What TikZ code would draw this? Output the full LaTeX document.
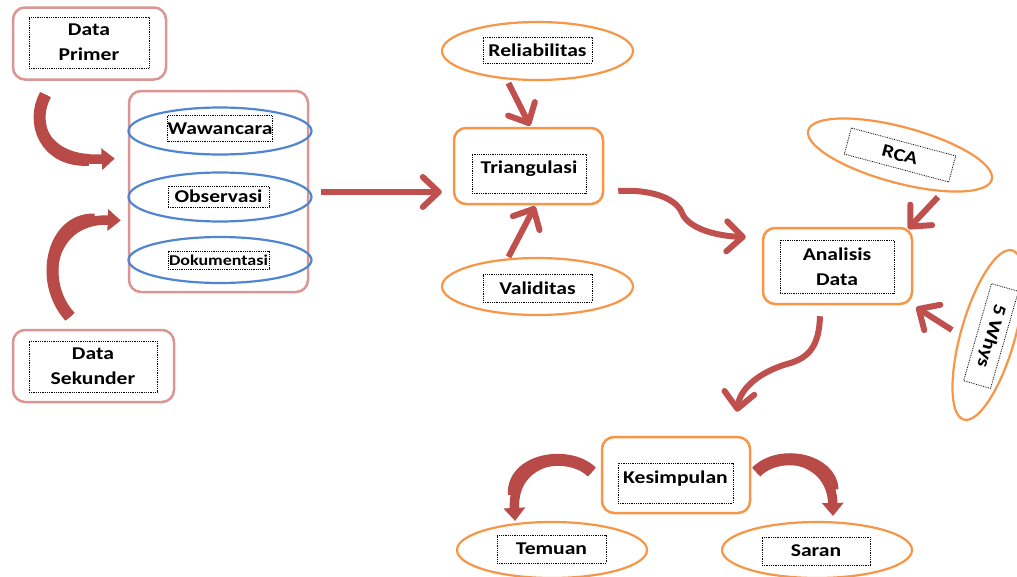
\documentclass[tikz,border=0pt]{standalone}
\usepackage{fontspec}
\setmainfont{Carlito}[FakeStretch=1.2]
\usetikzlibrary{shapes.geometric,arrows.meta,calc}
\definecolor{pinkc}{HTML}{D99694}
\definecolor{orangec}{HTML}{F79646}
\definecolor{bluec}{HTML}{4F86CF}
\definecolor{arrc}{HTML}{C0504D}
\definecolor{carrc}{HTML}{B84A47}
\tikzset{
  pinkbox/.style={draw=pinkc, line width=2.5pt, rounded corners=12pt, fill=white, inner sep=0},
  orgbox/.style={draw=orangec, line width=2.5pt, rounded corners=12pt, fill=white, inner sep=0},
  oell/.style={ellipse, draw=orangec, line width=2.2pt, fill=white, inner sep=0},
  bell/.style={ellipse, draw=bluec, line width=2.2pt, inner sep=0},
  lbl/.style={draw=black, densely dotted, line width=0.8pt, fill=white, inner sep=0, align=center,
    font=\fontsize{18}{25}\selectfont\bfseries},
  topish/.style={text height=12pt, text depth=12pt},
  conn/.style={draw=arrc, line width=6pt, -{Straight Barb[length=16pt,width=30pt,round]}},
  carr/.style={draw=carrc, line width=7pt, -{Triangle[length=13pt,width=21pt]}},
  carrmid/.style={draw=carrc, line width=9.5pt, shorten >=12pt},
  carrfat/.style={draw=carrc, line width=12pt, shorten >=26pt},
}
\newcommand\curvedarrow[1]{\draw[carr] #1; \draw[carrmid] #1; \draw[carrfat] #1;}
\begin{document}
\begin{tikzpicture}[x=1pt,y=-1pt]
\useasboundingbox (0,0) rectangle (1017,576);

% left column
\node[pinkbox, minimum width=153, minimum height=72] (dp) at (89.5,43.5) {};
\node[lbl, minimum width=120, minimum height=51] (dpl) at (89,42.5) {Data\\Primer};
\node[pinkbox, minimum width=161, minimum height=72] (ds) at (93.5,366) {};
\node[lbl, minimum width=128, minimum height=51] (dsl) at (93,366.5) {Data\\Sekunder};

% group
\node[pinkbox, minimum width=179, minimum height=201] (grp) at (218.5,191.5) {};
\node[bell, minimum width=183, minimum height=47] (wel) at (220,131) {};
\node[bell, minimum width=183, minimum height=49] (oel) at (220,197) {};
\node[bell, minimum width=183, minimum height=46] (del) at (220,260) {};
\node[lbl, minimum width=102, minimum height=26] (wl) at (220,128.5) {Wawancara};
\node[lbl, minimum width=101, minimum height=21] (ol) at (218.5,196.5) {Observasi};
\node[lbl, minimum width=101, minimum height=18, font=\fontsize{15}{18}\selectfont\bfseries] (dl) at (218.5,260) {Dokumentasi};

% triangulasi
\node[orgbox, minimum width=149, minimum height=76] (tri) at (528.5,166) {};
\node[lbl, topish, minimum width=114, minimum height=39] (tril) at (529,173.5) {Triangulasi};
\node[oell, minimum width=191, minimum height=58] (rel) at (537.5,51) {};
\node[lbl, minimum width=109, minimum height=26] (rell) at (537.5,50) {Reliabilitas};
\node[oell, minimum width=191, minimum height=57] (val) at (537.5,286.5) {};
\node[lbl, minimum width=109, minimum height=28] (vall) at (537.5,288) {Validitas};

% analisis
\node[orgbox, minimum width=149, minimum height=76] (ana) at (837.5,266) {};
\node[lbl, minimum width=114, minimum height=53] (anal) at (837,266.5) {Analisis\\Data};
\node[oell, rotate=-15, minimum width=190, minimum height=56] (rca) at (900,155) {};
\node[lbl, rotate=-15, minimum width=108, minimum height=27] (rcal) at (900,155) {RCA};
\node[oell, rotate=-106, minimum width=176, minimum height=54] (wh) at (988,335) {};
\node[lbl, rotate=-106, minimum width=101, minimum height=28] (whl) at (991,336) {5 Whys};

% kesimpulan
\node[orgbox, minimum width=148, minimum height=76] (kes) at (676,475) {};
\node[lbl, topish, minimum width=115, minimum height=40] (kesl) at (675.5,483) {Kesimpulan};
\node[oell, minimum width=190, minimum height=56] (tem) at (552,550) {};
\node[lbl, minimum width=109, minimum height=28] (teml) at (551.5,549) {Temuan};
\node[oell, minimum width=190, minimum height=56] (sar) at (817,550) {};
\node[lbl, minimum width=108, minimum height=28] (sarl) at (816,551) {Saran};

% connectors
\curvedarrow{($(dp.south)+(-44,14)$) .. controls (30,122) and (45,162) .. ($(grp.west)+(-13,-33)$)}
\curvedarrow{($(ds.north)+(-23.5,-12)$) .. controls (38,282) and (52,218) .. ($(grp.west)+(-7,29)$)}
\coordinate (hs) at ($(grp.east)+(0,0.5)$);
\draw[conn, shorten <=12pt, shorten >=11pt] (hs) -- (hs -| tri.west);
\draw[conn] ($(rel.south)+(-29,2)$) -- ($(tri.north)+(1.5,-1)$);
\draw[conn] ($(val.north)+(-29,0)$) -- ($(tri.south)+(6.5,1)$);
\draw[conn] ($(tri.east)+(14,25)$) .. controls (655,189) and (677,200) .. (682,213)
  .. controls (688,228) and (715,236) .. ($(ana.west)+(-16,-29)$);
\draw[conn] ($(rca.center)+(38,42)$) -- ($(ana.north east)+(-5,2)$);
\draw[conn] ($(wh.center)+(-36,-5)$) -- ($(ana.south east)+(3,2)$);
\draw[conn] ($(ana.south)+(-17.5,11)$) .. controls (819,345) and (810,358) .. (787,364)
  .. controls (760,372) and (740,388) .. ($(kes.north)+(61,-24)$);
\curvedarrow{($(kes.west)+(-9,-3)$) .. controls (570,450) and (512,458) .. ($(tem.north)+(-37,0)$)}
\curvedarrow{($(kes.east)+(5,-3)$) .. controls (780,448) and (832,460) .. ($(sar.north)+(16,-5)$)}
\end{tikzpicture}
\end{document}
